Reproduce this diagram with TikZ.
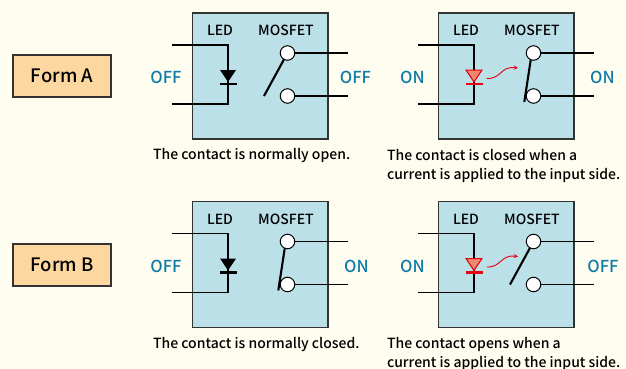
\documentclass[tikz,border=0pt]{standalone}
\usepackage{fontspec}
\setmainfont{Noto Sans CJK JP}[UprightFont=* Medium]
\usepackage{xcolor}
\definecolor{paper}{HTML}{FFFDF0}
\definecolor{panel}{HTML}{BBE0E8}
\definecolor{formfill}{HTML}{FDD7A0}
\definecolor{stateblue}{HTML}{0F7BA8}
\definecolor{ledred}{HTML}{E60012}
\definecolor{ledfill}{HTML}{F08A6C}
\tikzset{
  panelbox/.style={draw=black!80,line width=1.1pt,fill=panel,minimum width=135.5pt,minimum height=126pt,inner sep=0pt},
  formbox/.style={draw=black!80,line width=1.1pt,fill=formfill,minimum width=98pt,minimum height=42pt,font=\fontsize{18.5}{22}\selectfont},
  head/.style={font=\fontsize{14}{17}\selectfont},
  state/.style={text=stateblue,font=\fontsize{16.5}{20}\selectfont},
  caption/.style={anchor=west,align=left,font=\fontsize{14}{19}\selectfont},
  contact/.style={circle,draw=black,line width=1pt,fill=white,minimum size=14.5pt,inner sep=0pt},
  wire/.style={line width=1.1pt},
  blade/.style={line width=2.1pt},
  bar/.style={line width=2.2pt},
}
\begin{document}
\begin{tikzpicture}[x=1pt,y=-1pt]
\useasboundingbox[fill=paper] (0,0) rectangle (626,369);
% Form labels
\node[formbox] (formA) at (62,76) {Form A};
\node[formbox] (formB) at (62,265) {Form B};

% Top left panel
\begin{scope}[shift={(0,0)}]
\node[panelbox] (box1) at (260.2,76) {};
\node[head] (led1) at (220,30.7) {LED};
\node[head] (mos1) at (286,30.7) {MOSFET};
\coordinate (inA1) at (172,45);
\coordinate (inB1) at (172,104);
\coordinate (bendA1) at (228,45);
\coordinate (bendB1) at (228,104);
\coordinate (outA1) at (348,53);
\coordinate (outB1) at (348,96);
\draw[wire] (inA1) -- (bendA1) -- (bendB1) -- (inB1);
\coordinate (free1) at (264,96);
\draw[blade] (free1) -- (287.5,53);
\node[contact] (up1) at (287.5,53) {};
\node[contact] (low1) at (287.5,96) {};
\draw[wire] (up1) -- (outA1);
\draw[wire] (low1) -- (outB1);
\fill (220,70) -- (236,70) -- (228,82) -- cycle;
\draw[bar] (219.5,84) -- (237,84);
\node[state] (stL1) at (166,77.5) {OFF};
\node[state] (stR1) at (355.5,77.5) {OFF};
\node[caption] (cap1) at (149.5,156) {The contact is normally open.};
\end{scope}

% Top right panel
\begin{scope}[shift={(246,0)}]
\node[panelbox] (box2) at (260.2,76) {};
\node[head] (led2) at (220,30.7) {LED};
\node[head] (mos2) at (286,30.7) {MOSFET};
\coordinate (inA2) at (172,45);
\coordinate (inB2) at (172,104);
\coordinate (bendA2) at (228,45);
\coordinate (bendB2) at (228,104);
\coordinate (outA2) at (348,53);
\coordinate (outB2) at (348,96);
\draw[wire] (inA2) -- (bendA2) -- (bendB2) -- (inB2);
\coordinate (free2) at (278.3,102);
\coordinate (top2) at (284.7,60);
\node[contact] (up2) at (287.5,53) {};
\node[contact] (low2) at (287.5,96) {};
\draw[wire] (up2) -- (outA2);
\draw[wire] (low2) -- (outB2);
\draw[blade] (free2) -- (top2);
\draw[ledred,fill=ledfill,line width=1pt] (220,70) -- (236,70) -- (228,82) -- cycle;
\draw[ledred,bar] (219.5,84) -- (237,84);
\draw[ledred,line width=0.9pt,-stealth] (240.5,78.5) .. controls (256,79) and (254,66) .. (272,68);
\node[state] (stL2) at (166.5,77.5) {ON};
\node[state] (stR2) at (356.5,77.5) {ON};
\node[caption] (cap2) at (137.5,165.5) {The contact is closed when a\\current is applied to the input side.};
\end{scope}

% Bottom left panel
\begin{scope}[shift={(0,188.5)}]
\node[panelbox] (box3) at (260.2,76) {};
\node[head] (led3) at (220,30.7) {LED};
\node[head] (mos3) at (286,30.7) {MOSFET};
\coordinate (inA3) at (172,45);
\coordinate (inB3) at (172,104);
\coordinate (bendA3) at (228,45);
\coordinate (bendB3) at (228,104);
\coordinate (outA3) at (348,53);
\coordinate (outB3) at (348,96);
\draw[wire] (inA3) -- (bendA3) -- (bendB3) -- (inB3);
\coordinate (free3) at (278.3,102);
\coordinate (top3) at (284.7,60);
\node[contact] (up3) at (287.5,53) {};
\node[contact] (low3) at (287.5,96) {};
\draw[wire] (up3) -- (outA3);
\draw[wire] (low3) -- (outB3);
\draw[blade] (free3) -- (top3);
\fill (220,70) -- (236,70) -- (228,82) -- cycle;
\draw[bar] (219.5,84) -- (237,84);
\node[state] (stL3) at (166,77.5) {OFF};
\node[state] (stR3) at (356.5,77.5) {ON};
\node[caption] (cap3) at (149.5,156) {The contact is normally closed.};
\end{scope}

% Bottom right panel
\begin{scope}[shift={(246,188.5)}]
\node[panelbox] (box4) at (260.2,76) {};
\node[head] (led4) at (220,30.7) {LED};
\node[head] (mos4) at (286,30.7) {MOSFET};
\coordinate (inA4) at (172,45);
\coordinate (inB4) at (172,104);
\coordinate (bendA4) at (228,45);
\coordinate (bendB4) at (228,104);
\coordinate (outA4) at (348,53);
\coordinate (outB4) at (348,96);
\draw[wire] (inA4) -- (bendA4) -- (bendB4) -- (inB4);
\coordinate (free4) at (264,96);
\draw[blade] (free4) -- (287.5,53);
\node[contact] (up4) at (287.5,53) {};
\node[contact] (low4) at (287.5,96) {};
\draw[wire] (up4) -- (outA4);
\draw[wire] (low4) -- (outB4);
\draw[ledred,fill=ledfill,line width=1pt] (220,70) -- (236,70) -- (228,82) -- cycle;
\draw[ledred,bar] (219.5,84) -- (237,84);
\draw[ledred,line width=0.9pt,-stealth] (240.5,78.5) .. controls (256,79) and (254,66) .. (272,68);
\node[state] (stL4) at (166.5,77.5) {ON};
\node[state] (stR4) at (357,77.5) {OFF};
\node[caption] (cap4) at (137.5,165.5) {The contact opens when a\\current is applied to the input side.};
\end{scope}
\end{tikzpicture}
\end{document}
